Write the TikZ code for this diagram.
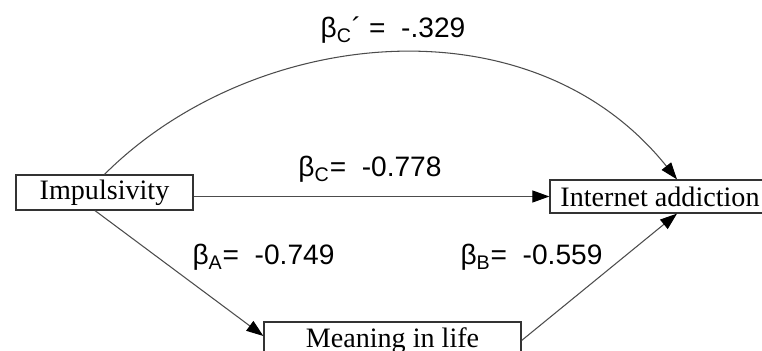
\documentclass[tikz,border=0pt]{standalone}
\usepackage{fontspec}
\setmainfont{Liberation Serif}
\newfontfamily\coeffont{Liberation Sans}
\usepackage{tikz}
\usetikzlibrary{
  arrows.meta,
  calc
}
\tikzset{
  varbox/.style={
    draw=black!80,
    fill=white,
    line width=0.7pt,
    inner sep=0pt,
    font=\fontsize{16}{19}\selectfont
  },
  patharrow/.style={
    -{Triangle[length=3.4mm,width=2.4mm,black]},
    line width=0.6pt,
    draw=black!70
  },
  coeflabel/.style={anchor=base, inner sep=0pt, font=\coeffont\fontsize{16}{19}\selectfont}
}

\begin{document}
\begin{tikzpicture}
  \fill[white] (0,0) rectangle (15.24,7.02);
  \useasboundingbox (0,0) rectangle (15.24,7.02);

  % Variablen
  \node[varbox, minimum width=3.54cm, minimum height=0.7cm] (imp) at (2.09,3.17) {Impulsivity};
  \node[varbox, minimum width=4.4cm, minimum height=0.66cm] (ia) at (13.2,3.09) {Internet addiction};
  \node[varbox, minimum width=5.14cm, minimum height=0.74cm] (ml) at (7.85,0.21) {Meaning in life};

  % Pfade
  \draw[patharrow] (imp.north) .. controls (5.02,6.46) and (10.6,7.10) .. ([xshift=0.34cm]ia.north);
  \draw[patharrow] (imp.east |- ia.west) -- (ia.west);
  \draw[patharrow] ([xshift=-0.19cm]imp.south) -- ([yshift=0.09cm]ml.west);
  \draw[patharrow] (ml.east) -- ([xshift=0.34cm]ia.south);

  % Koeffizienten
  \node[coeflabel] (bcp) at (7.86,6.26) {β\textsubscript{C}´ = \ -.329};
  \node[coeflabel] (bc) at (7.40,3.48) {β\textsubscript{C}= \ -0.778};
  \node[coeflabel] (ba) at (5.27,1.72) {β\textsubscript{A}= \ -0.749};
  \node[coeflabel] (bb) at (10.63,1.72) {β\textsubscript{B}= \ -0.559};
\end{tikzpicture}
\end{document}
